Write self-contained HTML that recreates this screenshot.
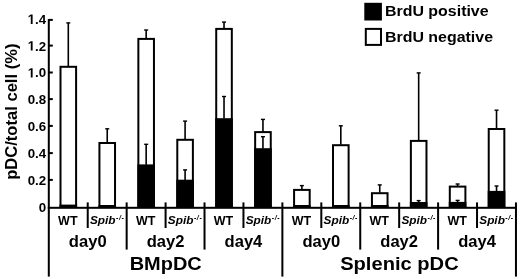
<!DOCTYPE html>
<html><head><meta charset="utf-8"><style>
html,body{margin:0;padding:0;background:#fff;}
body{width:520px;height:279px;overflow:hidden;}
svg{display:block;font-family:"Liberation Sans", sans-serif;will-change:transform;}
svg text{font-family:"Liberation Sans", sans-serif;fill:#000;}
</style></head><body>
<svg width="520" height="279" viewBox="0 0 520 279">
<rect x="0" y="0" width="520" height="279" fill="#fff"/>
<rect x="67.50" y="22.90" width="1.6" height="43.40" fill="#000"/>
<rect x="66.30" y="22.20" width="4.0" height="1.4" fill="#000"/>
<rect x="60.50" y="66.80" width="15.60" height="139.20" fill="#fff" stroke="#000" stroke-width="2.0"/>
<rect x="59.50" y="204.60" width="17.60" height="2.40" fill="#000"/>
<rect x="106.43" y="128.80" width="1.6" height="13.70" fill="#000"/>
<rect x="105.23" y="128.10" width="4.0" height="1.4" fill="#000"/>
<rect x="99.43" y="143.00" width="15.60" height="63.00" fill="#fff" stroke="#000" stroke-width="2.0"/>
<rect x="98.43" y="205.20" width="17.60" height="1.80" fill="#000"/>
<rect x="145.36" y="30.00" width="1.6" height="8.40" fill="#000"/>
<rect x="144.16" y="29.30" width="4.0" height="1.4" fill="#000"/>
<rect x="138.36" y="38.90" width="15.60" height="167.10" fill="#fff" stroke="#000" stroke-width="2.0"/>
<rect x="137.36" y="164.40" width="17.60" height="42.60" fill="#000"/>
<rect x="145.36" y="144.30" width="1.6" height="20.60" fill="#000"/>
<rect x="144.16" y="143.60" width="4.0" height="1.4" fill="#000"/>
<rect x="184.29" y="121.10" width="1.6" height="18.20" fill="#000"/>
<rect x="183.09" y="120.40" width="4.0" height="1.4" fill="#000"/>
<rect x="177.29" y="139.80" width="15.60" height="66.20" fill="#fff" stroke="#000" stroke-width="2.0"/>
<rect x="176.29" y="179.70" width="17.60" height="27.30" fill="#000"/>
<rect x="184.29" y="169.90" width="1.6" height="10.30" fill="#000"/>
<rect x="183.09" y="169.20" width="4.0" height="1.4" fill="#000"/>
<rect x="223.22" y="22.10" width="1.6" height="6.30" fill="#000"/>
<rect x="222.02" y="21.40" width="4.0" height="1.4" fill="#000"/>
<rect x="216.22" y="28.90" width="15.60" height="177.10" fill="#fff" stroke="#000" stroke-width="2.0"/>
<rect x="215.22" y="118.20" width="17.60" height="88.80" fill="#000"/>
<rect x="223.22" y="96.50" width="1.6" height="22.20" fill="#000"/>
<rect x="222.02" y="95.80" width="4.0" height="1.4" fill="#000"/>
<rect x="262.15" y="119.40" width="1.6" height="12.20" fill="#000"/>
<rect x="260.95" y="118.70" width="4.0" height="1.4" fill="#000"/>
<rect x="255.15" y="132.10" width="15.60" height="73.90" fill="#fff" stroke="#000" stroke-width="2.0"/>
<rect x="254.15" y="148.20" width="17.60" height="58.80" fill="#000"/>
<rect x="262.15" y="136.70" width="1.6" height="12.00" fill="#000"/>
<rect x="260.95" y="136.00" width="4.0" height="1.4" fill="#000"/>
<rect x="301.08" y="185.60" width="1.6" height="3.80" fill="#000"/>
<rect x="299.88" y="184.90" width="4.0" height="1.4" fill="#000"/>
<rect x="294.08" y="189.90" width="15.60" height="16.10" fill="#fff" stroke="#000" stroke-width="2.0"/>
<rect x="293.08" y="205.50" width="17.60" height="1.50" fill="#000"/>
<rect x="340.01" y="125.80" width="1.6" height="18.90" fill="#000"/>
<rect x="338.81" y="125.10" width="4.0" height="1.4" fill="#000"/>
<rect x="333.01" y="145.20" width="15.60" height="60.80" fill="#fff" stroke="#000" stroke-width="2.0"/>
<rect x="332.01" y="205.00" width="17.60" height="2.00" fill="#000"/>
<rect x="378.94" y="184.90" width="1.6" height="7.80" fill="#000"/>
<rect x="377.74" y="184.20" width="4.0" height="1.4" fill="#000"/>
<rect x="371.94" y="193.20" width="15.60" height="12.80" fill="#fff" stroke="#000" stroke-width="2.0"/>
<rect x="370.94" y="205.00" width="17.60" height="2.00" fill="#000"/>
<rect x="417.87" y="72.90" width="1.6" height="67.50" fill="#000"/>
<rect x="416.67" y="72.20" width="4.0" height="1.4" fill="#000"/>
<rect x="410.87" y="140.90" width="15.60" height="65.10" fill="#fff" stroke="#000" stroke-width="2.0"/>
<rect x="409.87" y="202.00" width="17.60" height="5.00" fill="#000"/>
<rect x="417.87" y="200.60" width="1.6" height="1.90" fill="#000"/>
<rect x="416.67" y="199.90" width="4.0" height="1.4" fill="#000"/>
<rect x="456.80" y="184.00" width="1.6" height="2.10" fill="#000"/>
<rect x="455.60" y="183.30" width="4.0" height="1.4" fill="#000"/>
<rect x="449.80" y="186.60" width="15.60" height="19.40" fill="#fff" stroke="#000" stroke-width="2.0"/>
<rect x="448.80" y="201.90" width="17.60" height="5.10" fill="#000"/>
<rect x="456.80" y="200.40" width="1.6" height="2.00" fill="#000"/>
<rect x="455.60" y="199.70" width="4.0" height="1.4" fill="#000"/>
<rect x="495.73" y="110.20" width="1.6" height="18.30" fill="#000"/>
<rect x="494.53" y="109.50" width="4.0" height="1.4" fill="#000"/>
<rect x="488.73" y="129.00" width="15.60" height="77.00" fill="#fff" stroke="#000" stroke-width="2.0"/>
<rect x="487.73" y="190.90" width="17.60" height="16.10" fill="#000"/>
<rect x="495.73" y="186.00" width="1.6" height="5.40" fill="#000"/>
<rect x="494.53" y="185.30" width="4.0" height="1.4" fill="#000"/>
<rect x="47.80" y="19.0" width="2" height="257.60" fill="#000"/>
<rect x="48.80" y="18.90" width="4" height="2" fill="#000"/>
<rect x="48.80" y="44.60" width="4" height="2" fill="#000"/>
<rect x="48.80" y="71.50" width="4" height="2" fill="#000"/>
<rect x="48.80" y="98.10" width="4" height="2" fill="#000"/>
<rect x="48.80" y="124.90" width="4" height="2" fill="#000"/>
<rect x="48.80" y="152.10" width="4" height="2" fill="#000"/>
<rect x="48.80" y="178.90" width="4" height="2" fill="#000"/>
<rect x="47.80" y="206.80" width="469.16" height="2" fill="#000"/>
<rect x="86.73" y="202.4" width="2" height="25.60" fill="#000"/>
<rect x="125.66" y="202.4" width="2" height="47.20" fill="#000"/>
<rect x="164.59" y="202.4" width="2" height="25.60" fill="#000"/>
<rect x="203.52" y="202.4" width="2" height="47.20" fill="#000"/>
<rect x="242.45" y="202.4" width="2" height="25.60" fill="#000"/>
<rect x="281.38" y="202.4" width="2" height="74.20" fill="#000"/>
<rect x="320.31" y="202.4" width="2" height="25.60" fill="#000"/>
<rect x="359.24" y="202.4" width="2" height="47.20" fill="#000"/>
<rect x="398.17" y="202.4" width="2" height="25.60" fill="#000"/>
<rect x="437.10" y="202.4" width="2" height="47.20" fill="#000"/>
<rect x="476.03" y="202.4" width="2" height="25.60" fill="#000"/>
<rect x="514.96" y="202.4" width="2" height="74.20" fill="#000"/>
<text x="0" y="0" transform="translate(46.2,23.89) scale(0.98,1)" text-anchor="end" font-size="13.6" font-weight="bold">.4</text>
<path transform="translate(27.672,23.89) scale(0.006508,-0.006641)" d="M478 0L478 1170L140 959L140 1180L493 1409L759 1409L759 0Z" fill="#000"/>
<text x="0" y="0" transform="translate(46.2,50.59) scale(0.98,1)" text-anchor="end" font-size="13.6" font-weight="bold">.2</text>
<path transform="translate(27.672,50.59) scale(0.006508,-0.006641)" d="M478 0L478 1170L140 959L140 1180L493 1409L759 1409L759 0Z" fill="#000"/>
<text x="0" y="0" transform="translate(46.2,77.49) scale(0.98,1)" text-anchor="end" font-size="13.6" font-weight="bold">.0</text>
<path transform="translate(27.672,77.49) scale(0.006508,-0.006641)" d="M478 0L478 1170L140 959L140 1180L493 1409L759 1409L759 0Z" fill="#000"/>
<text x="0" y="0" transform="translate(46.2,104.09) scale(0.98,1)" text-anchor="end" font-size="13.6" font-weight="bold">0.8</text>
<text x="0" y="0" transform="translate(46.2,130.89) scale(0.98,1)" text-anchor="end" font-size="13.6" font-weight="bold">0.6</text>
<text x="0" y="0" transform="translate(46.2,158.09) scale(0.98,1)" text-anchor="end" font-size="13.6" font-weight="bold">0.4</text>
<text x="0" y="0" transform="translate(46.2,184.89) scale(0.98,1)" text-anchor="end" font-size="13.6" font-weight="bold">0.2</text>
<text x="0" y="0" transform="translate(46.2,212.09) scale(0.98,1)" text-anchor="end" font-size="13.6" font-weight="bold">0</text>
<text x="0" y="0" transform="translate(16.9,111.7) rotate(-90) scale(1.03,1)" text-anchor="middle" font-size="16.1" font-weight="bold">pDC/total cell (%)</text>
<text x="67.80" y="225.0" text-anchor="middle" font-size="12.5" font-weight="bold">WT</text>
<text x="107.23" y="223.5" text-anchor="middle" font-size="11.8" font-weight="bold" font-style="italic">Spib<tspan font-size="7" dx="0.5" dy="-3.4" letter-spacing="0.6">-/-</tspan></text>
<text x="145.66" y="225.0" text-anchor="middle" font-size="12.5" font-weight="bold">WT</text>
<text x="185.09" y="223.5" text-anchor="middle" font-size="11.8" font-weight="bold" font-style="italic">Spib<tspan font-size="7" dx="0.5" dy="-3.4" letter-spacing="0.6">-/-</tspan></text>
<text x="223.52" y="225.0" text-anchor="middle" font-size="12.5" font-weight="bold">WT</text>
<text x="262.95" y="223.5" text-anchor="middle" font-size="11.8" font-weight="bold" font-style="italic">Spib<tspan font-size="7" dx="0.5" dy="-3.4" letter-spacing="0.6">-/-</tspan></text>
<text x="301.38" y="225.0" text-anchor="middle" font-size="12.5" font-weight="bold">WT</text>
<text x="340.81" y="223.5" text-anchor="middle" font-size="11.8" font-weight="bold" font-style="italic">Spib<tspan font-size="7" dx="0.5" dy="-3.4" letter-spacing="0.6">-/-</tspan></text>
<text x="379.24" y="225.0" text-anchor="middle" font-size="12.5" font-weight="bold">WT</text>
<text x="418.67" y="223.5" text-anchor="middle" font-size="11.8" font-weight="bold" font-style="italic">Spib<tspan font-size="7" dx="0.5" dy="-3.4" letter-spacing="0.6">-/-</tspan></text>
<text x="457.10" y="225.0" text-anchor="middle" font-size="12.5" font-weight="bold">WT</text>
<text x="496.53" y="223.5" text-anchor="middle" font-size="11.8" font-weight="bold" font-style="italic">Spib<tspan font-size="7" dx="0.5" dy="-3.4" letter-spacing="0.6">-/-</tspan></text>
<text x="0" y="0" transform="translate(87.73,247.4) scale(1.02,1)" text-anchor="middle" font-size="16.25" font-weight="bold">day0</text>
<text x="0" y="0" transform="translate(165.59,247.4) scale(1.02,1)" text-anchor="middle" font-size="16.25" font-weight="bold">day2</text>
<text x="0" y="0" transform="translate(243.45,247.4) scale(1.02,1)" text-anchor="middle" font-size="16.25" font-weight="bold">day4</text>
<text x="0" y="0" transform="translate(321.31,247.4) scale(1.02,1)" text-anchor="middle" font-size="16.25" font-weight="bold">day0</text>
<text x="0" y="0" transform="translate(399.17,247.4) scale(1.02,1)" text-anchor="middle" font-size="16.25" font-weight="bold">day2</text>
<text x="0" y="0" transform="translate(477.03,247.4) scale(1.02,1)" text-anchor="middle" font-size="16.25" font-weight="bold">day4</text>
<text x="0" y="0" transform="translate(165.7,269.8) scale(1.05,1)" text-anchor="middle" font-size="19" font-weight="bold">BMpDC</text>
<text x="0" y="0" transform="translate(399.4,269.8) scale(1.06,1)" text-anchor="middle" font-size="19" font-weight="bold">Splenic pDC</text>
<rect x="364.3" y="2.8" width="17.6" height="17.7" fill="#000"/>
<rect x="365.8" y="28.9" width="15.2" height="16.0" fill="#fff" stroke="#000" stroke-width="2"/>
<text x="0" y="0" transform="translate(385.0,16.2) scale(1.063,1)" font-size="15" font-weight="bold">BrdU positive</text>
<text x="0" y="0" transform="translate(385.0,41.9) scale(1.063,1)" font-size="15" font-weight="bold">BrdU negative</text>
</svg>
</body></html>
